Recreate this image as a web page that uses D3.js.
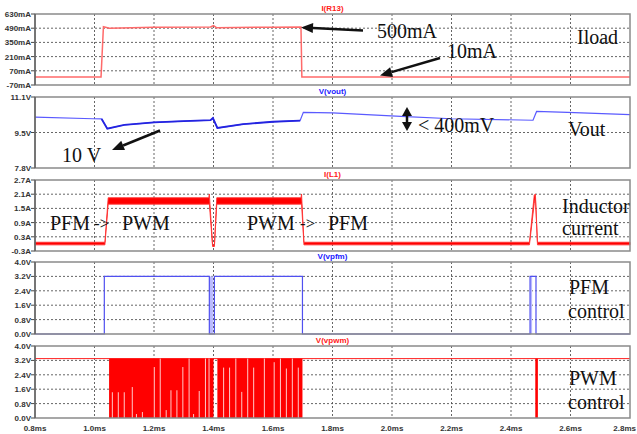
<!DOCTYPE html>
<html>
<head>
<meta charset="utf-8">
<script src="https://cdn.jsdelivr.net/npm/d3@7"></script>
<style>
  body { margin: 0; background: #fff; }
  svg { display: block; }
  .tick-label { font-family: "Liberation Sans", Arial, sans-serif; font-size: 8px; font-weight: bold; fill: #333; }
  .title { font-family: "Liberation Sans", Arial, sans-serif; font-size: 8px; font-weight: bold; }
  .note { font-family: "Liberation Serif", "Times New Roman", serif; font-size: 20px; fill: #111; }
</style>
</head>
<body>
<svg id="chart"></svg>
<script>
// time axis (ms)
var timeTicks = [0.8, 1.0, 1.2, 1.4, 1.6, 1.8, 2.0, 2.2, 2.4, 2.6, 2.8];
var timeLabels = ["0.8ms", "1.0ms", "1.2ms", "1.4ms", "1.6ms", "1.8ms", "2.0ms", "2.2ms", "2.4ms", "2.6ms", "2.8ms"];

// I(R13) load current, mA
var loadT = [0.8, 1.022, 1.030, 1.05, 1.2, 1.39, 1.40, 1.41, 1.6, 1.694, 1.697, 2.8];
var loadV = [10, 10, 505, 490, 500, 502, 515, 495, 500, 502, 10, 10];

// V(vout), V
var voutT = [0.8, 0.995, 1.024, 1.043, 1.1, 1.2, 1.3, 1.39, 1.398, 1.413, 1.5, 1.6, 1.691, 1.702, 1.80, 2.03, 2.2, 2.474, 2.486, 2.59, 2.8];
var voutV = [10.16, 10.09, 10.08, 9.63, 9.80, 9.92, 9.98, 10.02, 10.12, 9.66, 9.84, 9.95, 10.00, 10.39, 10.36, 10.20, 10.09, 10.02, 10.43, 10.39, 10.28];

// I(L1) inductor current envelope (ripple band), A
var indT  = [0.8, 1.035, 1.046, 1.384, 1.386, 1.397, 1.403, 1.411, 1.694, 1.696, 1.704, 2.462, 2.478, 2.482, 2.489, 2.8];
var indLo = [-0.04, -0.04, 1.68, 1.68, 1.70, -0.11, -0.11, 1.68, 1.68, 1.70, -0.04, -0.04, 1.70, 1.95, -0.04, -0.04];
var indHi = [0.07, 0.07, 1.95, 1.95, 2.11, -0.05, -0.05, 1.95, 1.95, 2.11, 0.07, 0.07, 2.05, 2.11, 0.07, 0.07];

// V(vpfm), V
var pfmT = [0.8, 1.033, 1.386, 1.403, 1.699, 2.464, 2.484, 2.8];
var pfmV = [0, 3.2, 0, 3.2, 0, 3.2, 0, 0];
var pfmShadeStart = [1.386, 2.465];
var pfmShadeEnd = [1.398, 2.471];

// V(vpwm), V
var pwmBlockStart = [1.049, 1.413];
var pwmBlockEnd = [1.400, 1.699];
var pwmHigh = 3.3;
var pwmGapT = [1.060, 1.080, 1.100, 1.127, 1.141, 1.161, 1.201, 1.221, 1.241, 1.257, 1.277, 1.297, 1.318, 1.333, 1.352, 1.373, 1.385,
               1.434, 1.454, 1.475, 1.495, 1.515, 1.535, 1.571, 1.604, 1.625, 1.645, 1.665, 1.685];
var pwmGapV = [1.43, 1.43, 1.43, 1.72, 0.22, 0.33, 2.83, 3.3, 0.44, 1.54, 1.54, 2.83, 3.3, 0.22, 1.50, 3.3, 3.3,
               2.80, 2.80, 3.3, 1.45, 3.3, 2.80, 3.3, 3.1, 3.3, 2.75, 3.3, 2.80];
var pwmPulseT = [2.486];

var W = 637, H = 434, left = 35, right = 630;

var svg = d3.select("#chart").attr("width", W).attr("height", H);

var x = d3.scaleLinear().domain([0.8, 2.8]).range([left, right]);

var panels = [
  { top: 14, bottom: 85, domain: [-70, 630], ticks: [-70, 70, 210, 350, 490, 630],
    labels: ["-70mA", "70mA", "210mA", "350mA", "490mA", "630mA"], title: "I(R13)", color: "#ff2020" },
  { top: 97, bottom: 168, domain: [7.8, 11.1], ticks: [7.8, 9.45, 11.1],
    labels: ["7.8V", "9.5V", "11.1V"], title: "V(vout)", color: "#2020ff" },
  { top: 180, bottom: 251, domain: [-0.3, 2.7], ticks: [-0.3, 0.3, 0.9, 1.5, 2.1, 2.7],
    labels: ["-0.3A", "0.3A", "0.9A", "1.5A", "2.1A", "2.7A"], title: "I(L1)", color: "#ff2020" },
  { top: 262, bottom: 334, domain: [0, 4], ticks: [0, 0.8, 1.6, 2.4, 3.2, 4.0],
    labels: ["0.0V", "0.8V", "1.6V", "2.4V", "3.2V", "4.0V"], title: "V(vpfm)", color: "#2020ff" },
  { top: 346, bottom: 418, domain: [0, 4], ticks: [0, 0.8, 1.6, 2.4, 3.2, 4.0],
    labels: ["0.0V", "0.8V", "1.6V", "2.4V", "3.2V", "4.0V"], title: "V(vpwm)", color: "#ff2020" }
];

panels.forEach(function(p) {
  p.y = d3.scaleLinear().domain(p.domain).range([p.bottom, p.top]);
  var g = svg.append("g");
  p.g = g;

  // grid
  g.selectAll(".vgrid").data(timeTicks.slice(1, -1)).join("line")
    .attr("x1", d => x(d)).attr("x2", d => x(d))
    .attr("y1", p.top).attr("y2", p.bottom)
    .attr("stroke", "#555").attr("stroke-dasharray", "2,2").attr("stroke-width", 0.9);
  g.selectAll(".hgrid").data(p.ticks.slice(1, -1)).join("line")
    .attr("x1", left).attr("x2", right)
    .attr("y1", d => p.y(d)).attr("y2", d => p.y(d))
    .attr("stroke", "#555").attr("stroke-dasharray", "2,2").attr("stroke-width", 0.9);

  // y axis labels + ticks
  g.selectAll(".tk").data(p.ticks).join("line")
    .attr("x1", left - 4).attr("x2", left)
    .attr("y1", d => p.y(d)).attr("y2", d => p.y(d))
    .attr("stroke", "#444");
  g.selectAll(".tl").data(p.ticks).join("text")
    .attr("class", "tick-label")
    .attr("x", left - 4).attr("y", d => p.y(d) + 3)
    .attr("text-anchor", "end")
    .text((d, i) => p.labels[i]);

  g.append("text").attr("class", "title")
    .attr("x", (left + right) / 2).attr("y", p.top - 3)
    .attr("text-anchor", "middle").attr("fill", p.color)
    .text(p.title);
});

// panel 1: load current
var p1 = panels[0];
p1.g.append("path")
  .attr("d", d3.line().x((d, i) => x(loadT[i])).y(d => p1.y(d))(loadV))
  .attr("fill", "none").attr("stroke", "#ff6a6a").attr("stroke-width", 1.5);

// panel 2: vout
var p2 = panels[1];
var vline = d3.line().x(d => x(d[0])).y(d => p2.y(d[1]));
var voutPts = voutT.map((t, i) => [t, voutV[i]]);
p2.g.append("path").attr("d", vline(voutPts))
  .attr("fill", "none").attr("stroke", "#5a5aff").attr("stroke-width", 1.2);
p2.g.append("path").attr("d", vline(voutPts.filter(d => d[0] >= 1.02 && d[0] <= 1.695)))
  .attr("fill", "none").attr("stroke", "#2424e0").attr("stroke-width", 1.8);

// panel 3: inductor current band
var p3 = panels[2];
p3.g.append("path")
  .attr("d", d3.area().x(d => x(d)).y0((d, i) => p3.y(indLo[i])).y1((d, i) => p3.y(indHi[i]))(indT))
  .attr("fill", "#f00").attr("stroke", "#f33").attr("stroke-width", 0.9);

// panel 4: pfm control
var p4 = panels[3];
p4.g.selectAll(".shade").data(pfmShadeStart).join("rect")
  .attr("x", d => x(d)).attr("width", (d, i) => x(pfmShadeEnd[i]) - x(d))
  .attr("y", p4.y(3.2)).attr("height", p4.y(0) - p4.y(3.2))
  .attr("fill", "#b9b9ff");
p4.g.append("path")
  .attr("d", d3.line().curve(d3.curveStepAfter).x((d, i) => x(pfmT[i])).y(d => p4.y(d))(pfmV))
  .attr("fill", "none").attr("stroke", "#5050f0").attr("stroke-width", 1.2);

// panel 5: pwm control
var p5 = panels[4];
p5.g.append("line")
  .attr("x1", left).attr("x2", right)
  .attr("y1", p5.y(pwmHigh)).attr("y2", p5.y(pwmHigh))
  .attr("stroke", "#f22").attr("stroke-width", 1);
p5.g.selectAll(".blk").data(pwmBlockStart).join("rect")
  .attr("x", d => x(d)).attr("width", (d, i) => x(pwmBlockEnd[i]) - x(d))
  .attr("y", p5.y(pwmHigh)).attr("height", p5.y(0) - p5.y(pwmHigh))
  .attr("fill", "#ff0000");
p5.g.selectAll(".gap").data(pwmGapT).join("line")
  .attr("x1", d => x(d)).attr("x2", d => x(d))
  .attr("y1", p5.y(0)).attr("y2", (d, i) => p5.y(pwmGapV[i]))
  .attr("stroke", "#ffc8c8").attr("stroke-width", 1);
p5.g.selectAll(".pulse").data(pwmPulseT).join("line")
  .attr("x1", d => x(d)).attr("x2", d => x(d))
  .attr("y1", p5.y(0)).attr("y2", p5.y(pwmHigh))
  .attr("stroke", "#f00").attr("stroke-width", 2.6);

// frames drawn on top
panels.forEach(function(p) {
  svg.append("rect")
    .attr("x", left).attr("y", p.top).attr("width", right - left).attr("height", p.bottom - p.top)
    .attr("fill", "none").attr("stroke", "#8a8a8a").attr("stroke-width", 1.5);
  svg.append("line")
    .attr("x1", left).attr("x2", left).attr("y1", p.top).attr("y2", p.bottom)
    .attr("stroke", "#555").attr("stroke-width", 1.2);
});

// x axis labels (last one pulled in so it stays inside the window)
svg.selectAll(".xl").data(timeTicks).join("text")
  .attr("class", "tick-label")
  .attr("x", (d, i) => i === timeTicks.length - 1 ? W - 1 : x(d)).attr("y", 431)
  .attr("text-anchor", (d, i) => i === timeTicks.length - 1 ? "end" : "middle")
  .text((d, i) => timeLabels[i]);

// annotations
var notes = [
  { t: "500mA", x: 377, y: 38 },
  { t: "10mA", x: 447, y: 58 },
  { t: "Iload", x: 577, y: 44 },
  { t: "10 V", x: 62, y: 162 },
  { t: "< 400mV", x: 418, y: 132 },
  { t: "Vout", x: 568, y: 136 },
  { t: "PFM", x: 50, y: 230 },
  { t: "->", x: 94, y: 229, s: 17 },
  { t: "PWM", x: 122, y: 230 },
  { t: "PWM", x: 247, y: 230 },
  { t: "->", x: 300, y: 229, s: 17 },
  { t: "PFM", x: 328, y: 230 },
  { t: "Inductor", x: 562, y: 213 },
  { t: "current", x: 562, y: 235 },
  { t: "PFM", x: 569, y: 294 },
  { t: "control", x: 568, y: 318 },
  { t: "PWM", x: 569, y: 385 },
  { t: "control", x: 568, y: 409 }
];
svg.selectAll(".note").data(notes).join("text")
  .attr("class", "note")
  .attr("x", d => d.x).attr("y", d => d.y)
  .style("font-size", d => (d.s || 20) + "px")
  .text(d => d.t);

function arrow(x1, y1, x2, y2) {
  var a = Math.atan2(y2 - y1, x2 - x1), len = 12, w = 5;
  var bx = x2 - len * Math.cos(a), by = y2 - len * Math.sin(a);
  svg.append("line").attr("x1", x1).attr("y1", y1).attr("x2", bx).attr("y2", by)
    .attr("stroke", "#111").attr("stroke-width", 2.5);
  svg.append("path")
    .attr("d", "M" + x2 + "," + y2 +
      "L" + (bx + w * Math.sin(a)) + "," + (by - w * Math.cos(a)) +
      "L" + (bx - w * Math.sin(a)) + "," + (by + w * Math.cos(a)) + "Z")
    .attr("fill", "#111");
}
arrow(363, 30.5, 301, 27.5);
arrow(440, 58, 380, 75.5);
arrow(160, 130.5, 112, 150);

// double arrow for ripple
svg.append("line").attr("x1", 407).attr("x2", 407).attr("y1", 114).attr("y2", 124)
  .attr("stroke", "#111").attr("stroke-width", 2.5);
svg.append("path").attr("d", "M407,107L402,116L412,116Z").attr("fill", "#111");
svg.append("path").attr("d", "M407,131L402,122L412,122Z").attr("fill", "#111");
</script>
</body>
</html>
